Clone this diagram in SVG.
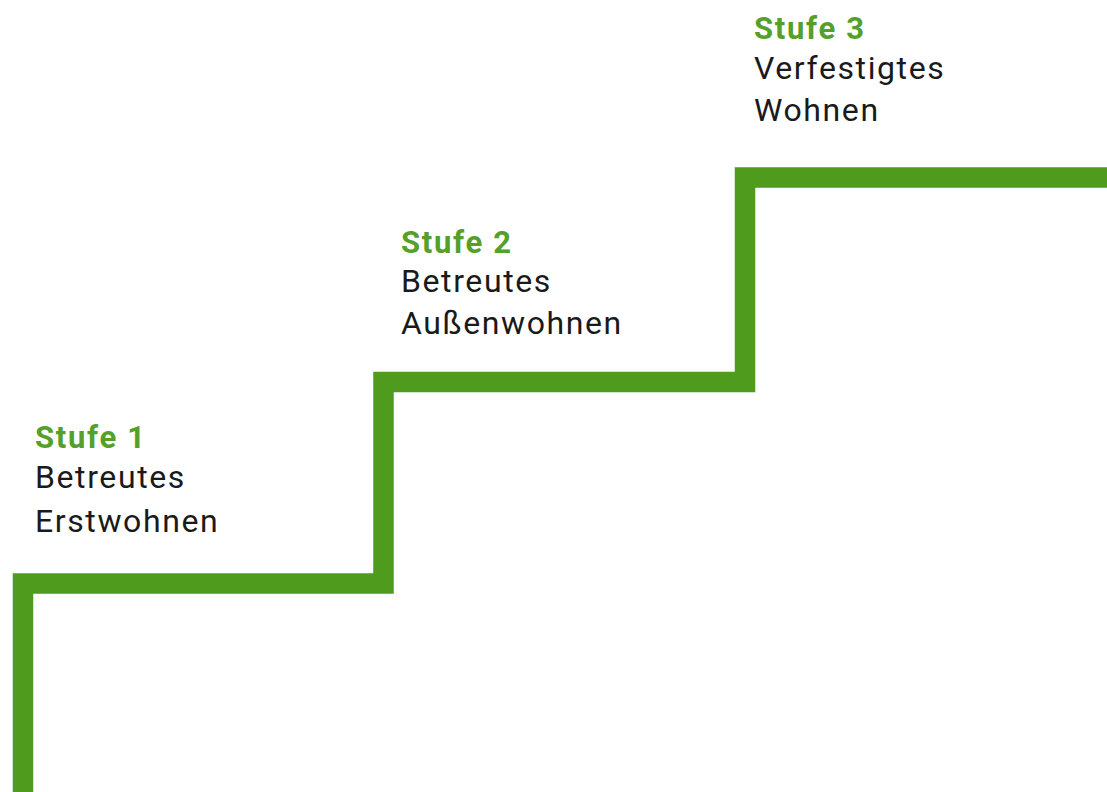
<svg xmlns="http://www.w3.org/2000/svg" width="1107" height="792" viewBox="0 0 1107 792">
<style>
.step{fill:none;stroke:#4f9b1d;stroke-width:20.5;stroke-linejoin:miter;stroke-linecap:butt}
.h{font-family:Roboto,"Liberation Sans",sans-serif;font-weight:700;font-size:31px;letter-spacing:1.7px;fill:#55a02a}
.t{font-family:Roboto,"Liberation Sans",sans-serif;font-weight:400;font-size:32px;letter-spacing:1.6px;fill:#1a1a1a}
</style>
<rect width="1107" height="792" fill="#ffffff"/>
<g id="connectors">
<path class="step" d="M23,792 V583.5 H383.5 V382 H745 V177.5 H1107"/>
</g>
<g id="stufe1">
<text class="h" x="35" y="448">Stufe 1</text>
<text class="t" x="35" y="488">Betreutes</text>
<text class="t" x="35" y="532">Erstwohnen</text>
</g>
<g id="stufe2">
<text class="h" x="401" y="253">Stufe 2</text>
<text class="t" x="401" y="292">Betreutes</text>
<text class="t" x="401" y="334">Außenwohnen</text>
</g>
<g id="stufe3">
<text class="h" x="754" y="39">Stufe 3</text>
<text class="t" x="754" y="79">Verfestigtes</text>
<text class="t" x="754" y="121">Wohnen</text>
</g>
</svg>
